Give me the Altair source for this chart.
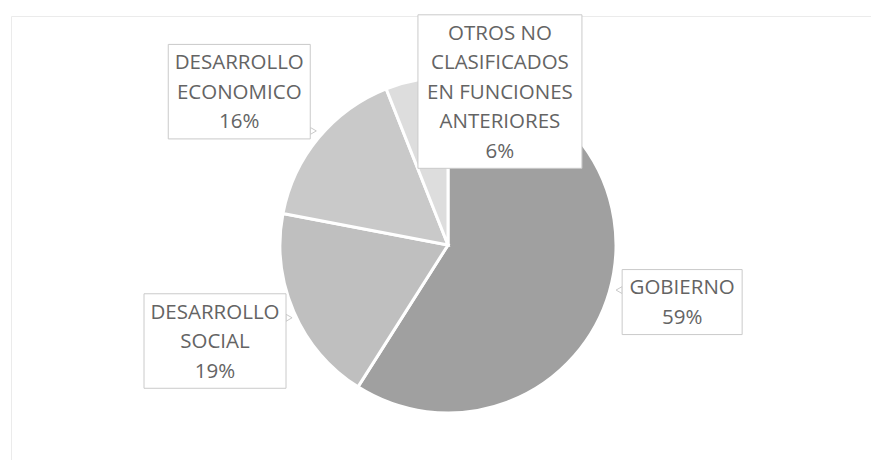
import math
import altair as alt
import pandas as pd

# ---- data ----
categories = ["GOBIERNO", "DESARROLLO SOCIAL", "DESARROLLO ECONOMICO",
              "OTROS NO CLASIFICADOS EN FUNCIONES ANTERIORES"]
values = [59, 19, 16, 6]
label_lines = [
    ["GOBIERNO"],
    ["DESARROLLO", "SOCIAL"],
    ["DESARROLLO", "ECONOMICO"],
    ["OTROS NO", "CLASIFICADOS", "EN FUNCIONES", "ANTERIORES"],
]
colors = ["#a0a0a0", "#bfbfbf", "#c9c9c9", "#dddddd"]

# ---- layout (chart pixel space) ----
W, H = 863, 452
PAD_L, PAD_T = 3, 6
CX, CY = 448 - 8 - PAD_L, 243 - 8 - PAD_T   # pie centre
R = 168
# callout placement: (distance from centre, angle nudge in degrees)
callout = [(241, -2.5), (252, 1.0), (259, -3.3), (162, 29.5)]
pointer_side = ["left", "right", "right", None]
LINE_H = 29.5

total = sum(values)
pie = pd.DataFrame({"cat": categories, "val": values, "idx": range(len(values))})

rows = []
cum = 0.0
for i, (c, v) in enumerate(zip(categories, values)):
    mid = (cum + v / 2) / total * 360
    cum += v
    dist, nudge = callout[i]
    a = math.radians(mid + nudge)
    x = CX + dist * math.sin(a)
    y = CY - dist * math.cos(a)
    lines = label_lines[i] + [f"{round(v / total * 100)}%"]
    n = len(lines)
    bw = 11 * max(len(s) for s in lines) + 32
    bh = n * LINE_H + 6
    rows.append(dict(cat=c, x=x, y=y, ty=y - (n - 1) / 2 * LINE_H + 1,
                     text="\n".join(lines),
                     x0=x - bw / 2, x1=x + bw / 2, y0=y - bh / 2, y1=y + bh / 2,
                     side=pointer_side[i], n=n))
lab = pd.DataFrame(rows)

ptr_rows = []
for r in rows:
    if r["side"] == "left":
        ptr_rows.append(dict(px=r["x0"] - 3, py=r["y"] - 12, shape="triangle-left"))
    elif r["side"] == "right" and r["cat"] == "DESARROLLO SOCIAL":
        ptr_rows.append(dict(px=r["x1"] + 3, py=r["y0"] + 24, shape="triangle-right"))
    elif r["side"] == "right":
        ptr_rows.append(dict(px=r["x1"] + 3, py=r["y1"] - 8, shape="triangle-right"))
ptr = pd.DataFrame(ptr_rows)

arcs = alt.Chart(pie).mark_arc(radius=R, stroke="white", strokeWidth=3).encode(
    theta=alt.Theta("val:Q", stack=True),
    order=alt.Order("idx:Q"),
    color=alt.Color("cat:N", scale=alt.Scale(domain=categories, range=colors), legend=None),
    x=alt.value(CX),
    y=alt.value(CY),
)

pointers = alt.Chart(ptr).mark_point(filled=True, fill="white", stroke="#cacaca",
                                     strokeWidth=1, size=50, opacity=1).encode(
    x=alt.X("px:Q", scale=None),
    y=alt.Y("py:Q", scale=None),
    shape=alt.Shape("shape:N", scale=None),
)

boxes = alt.Chart(lab).mark_rect(fill="white", stroke="#cacaca", strokeWidth=1,
                                 opacity=1).encode(
    x=alt.X("x0:Q", scale=None), x2="x1:Q",
    y=alt.Y("y0:Q", scale=None), y2="y1:Q",
)

texts = alt.Chart(lab).mark_text(font="Open Sans", fontSize=20.5, color="#646464",
                                 lineBreak="\n", lineHeight=LINE_H,
                                 align="center", baseline="middle").encode(
    x=alt.X("x:Q", scale=None),
    y=alt.Y("ty:Q", scale=None),
    text="text:N",
)

chart = alt.layer(arcs, pointers, boxes, texts).properties(
    width=W, height=H,
    autosize=alt.AutoSizeParams(type="fit", contains="padding"),
    padding={"left": PAD_L, "top": PAD_T, "right": 0, "bottom": 0},
    background="white",
).configure_view(stroke="#ebebeb", strokeWidth=1)

chart.save("out.html", embed_options={"renderer": "svg", "actions": False})
